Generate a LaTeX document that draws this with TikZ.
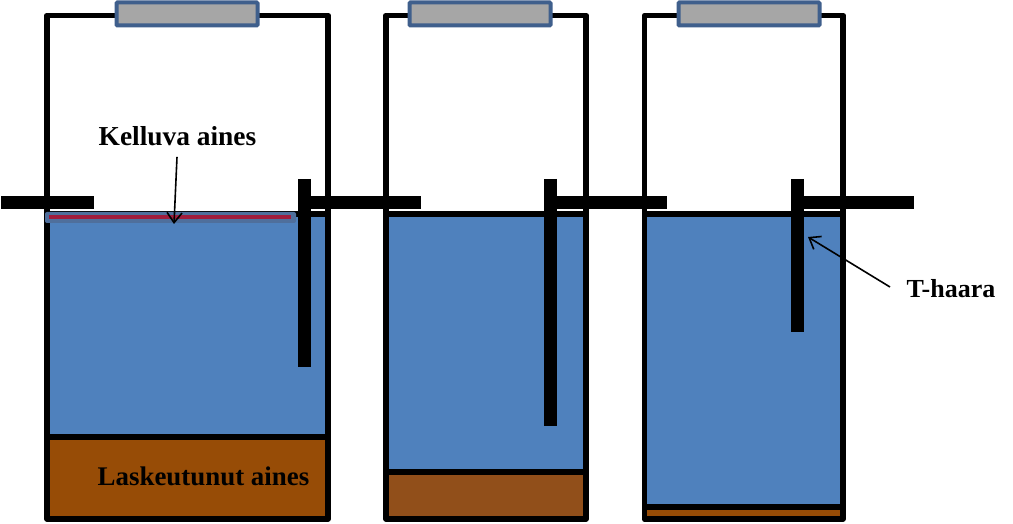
\documentclass[tikz,border=0pt]{standalone}
\usepackage{fontspec}
\setmainfont{Liberation Serif}
\usetikzlibrary{arrows.meta}
\definecolor{waterblue}{HTML}{4F81BD}
\definecolor{lidgray}{HTML}{A6A6A6}
\definecolor{lidblue}{HTML}{3F5F8C}
\definecolor{sludgea}{HTML}{974C06}
\definecolor{sludgeb}{HTML}{914F1A}
\definecolor{scumblue}{HTML}{4F6F9C}
\definecolor{scumred}{HTML}{A01C3C}
\tikzset{
    tank/.style={black,line width=5.8pt,line join=round},
    pipe/.style={black,line width=13pt},
    lid/.style={draw=lidblue,fill=lidgray,line width=4pt,rounded corners=1pt,minimum width=141pt,minimum height=23pt,inner sep=0pt},
    pointer/.style={black,line width=1.6pt,-{Straight Barb[length=10pt,width=15pt]}},
    tag/.style={font=\bfseries\fontsize{#1}{#1}\selectfont,text=black,inner sep=0pt}
}

\begin{document}
\begin{tikzpicture}[x=1pt,y=-1pt]
        \useasboundingbox[fill=white] (0,0) rectangle (1013,524);

        % tank corners
        \coordinate (a0) at (47,15.5);
        \coordinate (a1) at (328,15.5);
        \coordinate (a2) at (328,519);
        \coordinate (a3) at (47,519);
        \coordinate (b0) at (386,15.5);
        \coordinate (b1) at (586,15.5);
        \coordinate (b2) at (586,519);
        \coordinate (b3) at (386,519);
        \coordinate (c0) at (644.5,15.5);
        \coordinate (c1) at (843,15.5);
        \coordinate (c2) at (843,519);
        \coordinate (c3) at (644.5,519);

        % water and settled layer
        \fill[waterblue] (47,214) rectangle (a2);
        \fill[waterblue] (386,214) rectangle (b2);
        \fill[waterblue] (644.5,214) rectangle (c2);
        \fill[sludgea] (47,437) rectangle (a2);
        \fill[sludgeb] (386,472) rectangle (b2);
        \fill[sludgea] (644.5,507) rectangle (c2);

        \draw[tank] (a0) -- (a1) -- (a2) -- (a3) -- cycle;
        \draw[tank] (b0) -- (b1) -- (b2) -- (b3) -- cycle;
        \draw[tank] (c0) -- (c1) -- (c2) -- (c3) -- cycle;

        \draw[tank] (47,214) -- (328,214);
        \draw[tank] (47,437) -- (328,437);
        \draw[tank] (386,214) -- (586,214);
        \draw[tank] (386,472) -- (586,472);
        \draw[tank] (644.5,214) -- (843,214);
        \draw[tank] (644.5,507) -- (843,507);

        % pipes between the tanks
        \draw[pipe] (1,202.5) -- (94,202.5);
        \draw[pipe] (304.5,202.5) -- (421,202.5);
        \draw[pipe] (550.5,202.5) -- (667,202.5);
        \draw[pipe] (797.5,202.5) -- (914,202.5);
        \draw[pipe] (304.5,179) -- (304.5,367);
        \draw[pipe] (550.5,179) -- (550.5,426);
        \draw[pipe] (797.5,179) -- (797.5,332);

        % lids
        \node[lid] (lid1) at (187,14) {};
        \node[lid] (lid2) at (480,14) {};
        \node[lid] (lid3) at (749,14) {};

        % floating layer
        \fill[scumblue,rounded corners=2pt] (45,212) rectangle (296,223);
        \draw[scumred,line width=3.8pt] (49,217) -- (291,217);

        \node[tag=27.4] (kelluva) at (177.5,136) {Kelluva aines};
        \node[tag=26.9] (laskeutunut) at (203.5,476) {Laskeutunut aines};
        \node[tag=26] (thaara) at (951,288.5) {T-haara};

        \coordinate (kelluvaend) at (174,224);
        \coordinate (thaarastart) at (890,287);
        \coordinate (thaaraend) at (808,237);
        \draw[pointer,shorten <=11pt] (kelluva.south) -- (kelluvaend);
        \draw[pointer] (thaarastart) -- (thaaraend);
    \end{tikzpicture}
\end{document}
